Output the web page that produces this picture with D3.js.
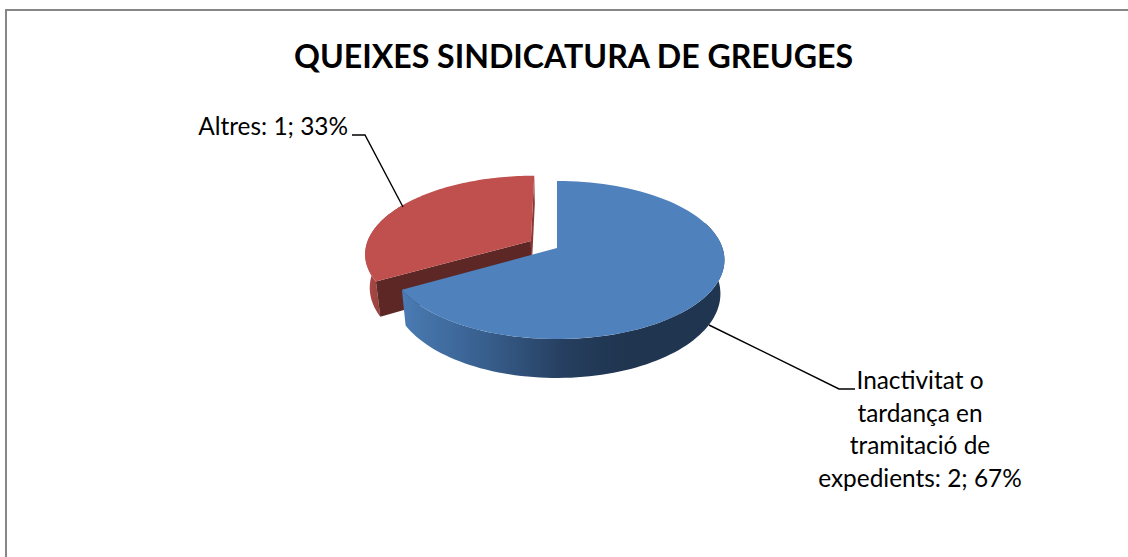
<!DOCTYPE html>
<html><head><meta charset="utf-8">
<script src="https://cdn.jsdelivr.net/npm/d3@7/dist/d3.min.js"></script>
<style>html,body{margin:0;padding:0;background:#fff;overflow:hidden}svg{display:block}text{font-family:Lato,"Open Sans",sans-serif;fill:#000}</style>
</head><body><svg id="c" width="1128" height="557"></svg>
<script>
const titleText = "QUEIXES SINDICATURA DE GREUGES";
const categories = ["Inactivitat o tardança en tramitació de expedients", "Altres"];
const values = [2, 1];
const labelLines = [["Inactivitat o", "tardança en", "tramitació de"], []];
const topColors = ["#4f81bd", "#c0504d"];
const explode = [0, 0.185];

const svg = d3.select("#c");
const defs = svg.append("defs");

svg.append("path").attr("d", "M6,557V10H1128").attr("fill", "none").attr("stroke", "#868686").attr("stroke-width", 2);

svg.append("text").attr("x", 573.5).attr("y", 68).attr("text-anchor", "middle")
  .attr("font-size", 33).attr("font-weight", 700).attr("textLength", 559).attr("lengthAdjust", "spacingAndGlyphs").text(titleText);

const cx = 557, cy = 248, R = 165.5, K = 77.2, P = 0.152, H = 33;
function proj(u, v, z) {
  const w = 1 - P * v, s = 1 - 0.024 * z;
  return [cx + R * u * s / w, cy + (K * v + H * z) / w];
}
const pie = d3.pie().sort(null).value(d => d)(values);
const total = d3.sum(values);

function pt(angle, d, mid, z) {
  const u = Math.sin(angle) * 1 + d * Math.sin(mid);
  const v = -Math.cos(angle) + d * -Math.cos(mid);
  return proj(u, v, z);
}
function centre(d, mid, z) { return proj(d * Math.sin(mid), -d * Math.cos(mid), z); }
function arcPts(a0, a1, d, mid, z) {
  const n = 90, out = [];
  for (let i = 0; i <= n; i++) out.push(pt(a0 + (a1 - a0) * i / n, d, mid, z));
  return out;
}
const line = d3.line();
const deg = x => x * Math.PI / 180;

function grad(id, x1, x2, stops) {
  const g = defs.append("linearGradient").attr("id", id).attr("gradientUnits", "userSpaceOnUse")
    .attr("x1", x1).attr("x2", x2).attr("y1", 0).attr("y2", 0);
  stops.forEach(s => g.append("stop").attr("offset", s[0]).attr("stop-color", s[1]));
}
grad("blueSide", 402, 724, [[0, "#4a7bb3"], [0.25, "#38608f"], [0.5, "#263f60"], [0.68, "#1f3550"], [1, "#1f3550"]]);
grad("redSide", 365, 385, [[0, "#b04c49"], [1, "#8f3d3a"]]);

{
  const p = pie[1], d = explode[1], mid = (p.startAngle + p.endAngle) / 2;
  const side = arcPts(p.startAngle, deg(300), d, mid, 0)
    .concat(arcPts(p.startAngle, deg(300), d, mid, 1).reverse());
  svg.append("path").attr("d", line(side) + "Z").attr("fill", "url(#redSide)");
  const c0 = centre(d, mid, 0), c1 = centre(d, mid, 1);
  const faceA = [c0, pt(p.startAngle, d, mid, 0), pt(p.startAngle, d, mid, 1), c1];
  svg.append("path").attr("d", line(faceA) + "Z").attr("fill", "#5c2725");
  const faceB = [c0, pt(p.endAngle, d, mid, 0), pt(p.endAngle, d, mid, 1), c1];
  svg.append("path").attr("d", line(faceB) + "Z").attr("fill", "#8a3936");
  const top = [c0].concat(arcPts(p.startAngle, p.endAngle, d, mid, 0));
  svg.append("path").attr("d", line(top) + "Z").attr("fill", topColors[1]);
}
{
  const p = pie[0], d = explode[0], mid = (p.startAngle + p.endAngle) / 2;
  const side = arcPts(deg(70), p.endAngle, d, mid, 0)
    .concat(arcPts(deg(70), p.endAngle, d, mid, 1).reverse());
  svg.append("path").attr("d", line(side) + "Z").attr("fill", "url(#blueSide)");
  const top = [centre(d, mid, 0)].concat(arcPts(p.startAngle, p.endAngle, d, mid, 0));
  svg.append("path").attr("d", line(top) + "Z").attr("fill", topColors[0]);
}

const leader = [[[709, 325], [839, 389], [855, 389]], [[403, 207], [365, 135], [352, 135]]];
leader.forEach(l => svg.append("path").attr("d", line(l)).attr("fill", "none").attr("stroke", "#000").attr("stroke-width", 1.4));

const fs = 24.4;
const fmt = i => `${values[i]}; ${Math.round(values[i] / total * 100)}%`;
svg.append("text").attr("x", 348).attr("y", 135).attr("text-anchor", "end").attr("font-size", fs)
  .text(`${categories[1]}: ${fmt(1)}`);
const lines0 = labelLines[0].concat([`expedients: ${fmt(0)}`]);
svg.append("g").selectAll("text").data(lines0).join("text")
  .attr("x", 920).attr("y", (d, i) => 389 + i * 32.7).attr("text-anchor", "middle")
  .attr("font-size", fs).text(d => d);
</script></body></html>
